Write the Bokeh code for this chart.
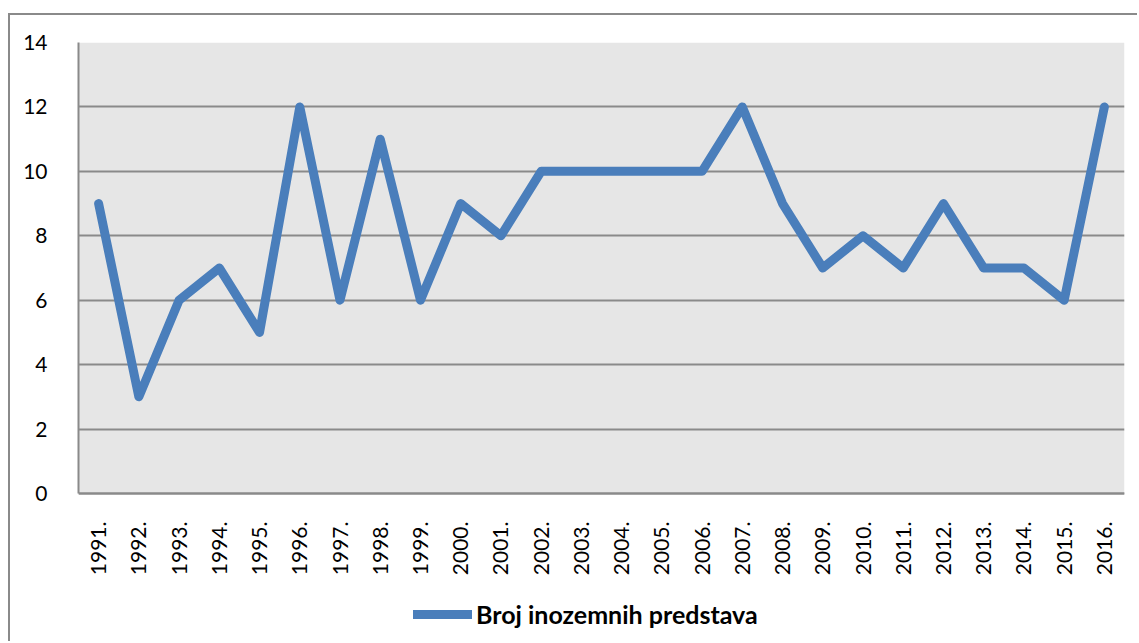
import math
from bokeh.plotting import figure
from bokeh.models import ColumnDataSource, Legend, LegendItem, FixedTicker, BoxAnnotation
from bokeh.embed import file_html
from bokeh.resources import INLINE

years = ["1991.", "1992.", "1993.", "1994.", "1995.", "1996.", "1997.", "1998.", "1999.",
         "2000.", "2001.", "2002.", "2003.", "2004.", "2005.", "2006.", "2007.", "2008.",
         "2009.", "2010.", "2011.", "2012.", "2013.", "2014.", "2015.", "2016."]
values = [9, 3, 6, 7, 5, 12, 6, 11, 6, 9, 8, 10, 10, 10, 10, 10, 12, 9, 7, 8, 7, 9, 7, 7, 6, 12]
series_name = "Broj inozemnih predstava"
y_ticks = [0, 2, 4, 6, 8, 10, 12, 14]

FONT = "Lato"
GRID = "#8a8a8a"
BLUE = "#4a7ebb"

# layout: plot area (0..14) is 451px tall; frame extends further down to hold
# the tick labels and the legend
Y_MIN, Y_MAX = y_ticks[0], y_ticks[-1]
FRAME_H = 601
PLOT_H = 451
y_bottom = Y_MAX - FRAME_H * (Y_MAX - Y_MIN) / PLOT_H

src = ColumnDataSource(dict(x=years, y=values))

p = figure(x_range=years, y_range=(y_bottom, Y_MAX), width=1129, height=628,
           min_border_left=68, min_border_top=27, min_border_right=15,
           min_border_bottom=0,
           output_backend="svg", toolbar_location=None,
           background_fill_color="white", border_fill_color="white")
p.outline_line_color = None
p.margin = (13, 0, 0, 8)
p.styles = {"border-top": "2px solid #8a8a8a", "border-left": "2px solid #8a8a8a"}

# grey plot-area background
p.add_layout(BoxAnnotation(bottom=Y_MIN, top=Y_MAX, fill_color="#e6e6e6",
                           fill_alpha=1, line_color=None, level="image"))

r = p.line("x", "y", source=src, line_color=BLUE, line_width=9,
           line_cap="round", line_join="round")

# axes
p.yaxis.ticker = FixedTicker(ticks=y_ticks)
p.yaxis.bounds = (Y_MIN, Y_MAX)
p.yaxis.major_tick_line_color = None
p.yaxis.minor_tick_line_color = None
p.yaxis.axis_line_color = GRID
p.yaxis.axis_line_width = 2
p.yaxis.major_label_text_font = FONT
p.yaxis.major_label_text_font_size = "21px"
p.yaxis.major_label_text_color = "black"
p.yaxis.major_label_standoff = 25

p.xaxis.fixed_location = Y_MIN
p.xaxis.major_tick_line_color = None
p.xaxis.axis_line_color = GRID
p.xaxis.axis_line_width = 2
p.xaxis.major_label_orientation = math.pi / 2
p.xaxis.major_label_text_font = FONT
p.xaxis.major_label_text_font_size = "21px"
p.xaxis.major_label_text_color = "black"
p.xaxis.major_label_standoff = 22

p.xgrid.grid_line_color = None
p.ygrid.ticker = FixedTicker(ticks=y_ticks)
p.ygrid.grid_line_color = GRID
p.ygrid.grid_line_width = 2

legend = Legend(items=[LegendItem(label=series_name, renderers=[r])],
                orientation="horizontal", location=(335, 14),
                label_text_font=FONT, label_text_font_style="bold",
                label_text_font_size="25px", label_text_color="black",
                glyph_width=59, glyph_height=24, label_standoff=4,
                border_line_color=None, background_fill_alpha=0,
                margin=0, padding=0)
p.add_layout(legend)

open("out.html", "w").write(file_html(p, INLINE))
